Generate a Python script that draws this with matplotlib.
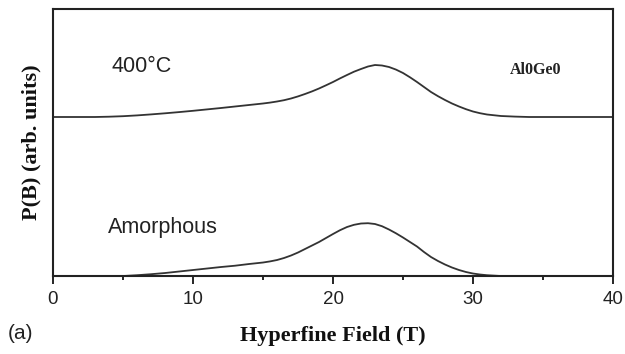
import matplotlib
matplotlib.use('Agg')
import matplotlib.pyplot as plt
from matplotlib.ticker import MultipleLocator

# hyperfine field (T): 1 T steps in the tails, 0.5 T steps across the peak
field = [0, 1, 2, 3, 4, 5, 6, 7, 8, 9, 10, 11, 12, 13, 14,
         15, 15.5, 16, 16.5, 17, 17.5, 18, 18.5, 19, 19.5,
         20, 20.5, 21, 21.5, 22, 22.5, 23, 23.5, 24, 24.5,
         25, 25.5, 26, 26.5, 27, 27.5, 28, 28.5, 29, 29.5,
         30, 30.5, 31, 32, 33, 34, 35, 36, 37, 38, 39, 40]

# P(B), arbitrary units
p_400 = [0, 0, 0, 0, 0.3, 0.8, 1.6, 2.6, 3.7, 4.9, 6.2, 7.6, 9, 10.5, 12,
         13.5, 14.4, 15.5, 16.8, 18.5, 20.6, 23, 25.6, 28.5, 31.7,
         35, 38.6, 42, 45.3, 48, 50.5, 52, 51.5, 50, 47.4,
         44, 39.7, 35, 30, 25, 20.8, 17, 13.5, 10.5, 7.8,
         5.5, 3.8, 2.5, 1, 0.4, 0, 0, 0, 0, 0, 0, 0]
p_amorph = [0, 0, 0, 0, 0, 0, 0.8, 1.8, 3, 4.5, 6, 7.5, 9, 10.3, 12,
            13.5, 14.6, 16, 18, 20.5, 23.5, 27, 30.5, 34, 38,
            42, 45.8, 49, 51.2, 52.5, 52.8, 52, 49.8, 46.5, 42.7,
            38.5, 34, 29.5, 24, 19, 15, 11.5, 8.5, 6, 4,
            2.5, 1.5, 0.8, 0, 0, 0, 0, 0, 0, 0, 0, 0]
offset_400 = 159

fig = plt.figure(figsize=(6.25, 3.54), dpi=100)
ax = fig.add_axes([0.0848, 0.2203, 0.896, 0.7543])

line_c = '#333333'
ax.plot(field, [v + offset_400 for v in p_400], color=line_c, lw=1.3)
ax.plot(field, p_amorph, color=line_c, lw=1.3)

ax.set_xlim(0, 40)
ax.set_ylim(0, 267)
ax.xaxis.set_major_locator(MultipleLocator(10))
ax.xaxis.set_minor_locator(MultipleLocator(5))
ax.set_yticks([])
ax.tick_params(axis='x', which='major', direction='out', length=6, width=1.2, pad=5,
               labelsize=13.5, labelcolor='#222222')
ax.tick_params(axis='x', which='minor', direction='out', length=3, width=1.2)
for lab in ax.get_xticklabels():
    lab.set_family('Liberation Sans')
for s in ax.spines.values():
    s.set_linewidth(1.5)
    s.set_color('#222222')

sans = 'Liberation Sans'
serif = 'Liberation Serif'
ax.text(4.2, 209, '400\u00b0C', family=sans, fontsize=15.5, va='center', ha='left', color='#222222')
ax.text(3.93, 49, 'Amorphous', family=sans, fontsize=15.5, va='center', ha='left', color='#222222')
ax.text(32.6, 206, 'Al0Ge0', family=serif, fontweight='bold', fontsize=11.5, va='center', ha='left', color='#222222')

ax.set_xlabel('Hyperfine Field (T)', family=serif, fontweight='bold', fontsize=16, labelpad=13, color='#111111')
ax.set_ylabel('P(B) (arb. units)', family=serif, fontweight='bold', fontsize=16, labelpad=8, color='#111111')
fig.text(0.013, 0.059, '(a)', family=sans, fontsize=15, va='center', ha='left', color='#222222')

fig.savefig('out.png', dpi=100)
